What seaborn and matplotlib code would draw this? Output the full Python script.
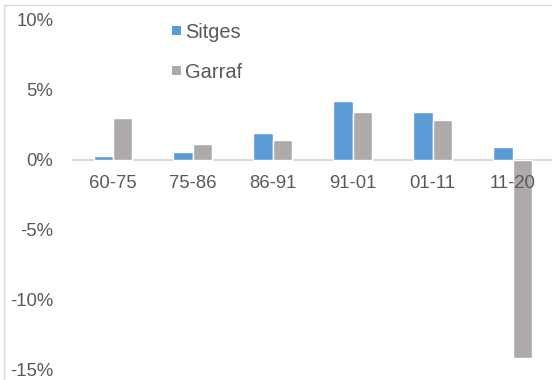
import pandas as pd
import matplotlib
matplotlib.use("Agg")
import matplotlib.pyplot as plt
from matplotlib.lines import Line2D
from matplotlib.patches import Patch
import seaborn as sns

# data (percent)
periods = ["60-75", "75-86", "86-91", "91-01", "01-11", "11-20"]
sitges = [0.25, 0.55, 1.93, 4.2, 3.45, 0.88]
garraf = [3.0, 1.1, 1.43, 3.4, 2.88, -14.2]
series = ["Sitges", "Garraf"]
colors = ["#5B9BD5", "#AEAAAA"]
ytick_vals = [10, 5, 0, -5, -10, -15]
ytick_labels = ["10%", "5%", "0%", "-5%", "-10%", "-15%"]

df = pd.DataFrame({
    "period": periods * 2,
    "value": sitges + garraf,
    "zona": ["Sitges"] * len(periods) + ["Garraf"] * len(periods),
})

sns.set_style("white")
plt.rcParams["font.family"] = ["Liberation Sans", "DejaVu Sans"]
txt = "#595959"
fs = 13.3

fig = plt.figure(figsize=(5.52, 3.80), dpi=100)
ax = fig.add_axes([72.7 / 552, 1 - 369.5 / 380, 480 / 552, 349.5 / 380])

sns.barplot(data=df, x="period", y="value", hue="zona", hue_order=series,
            order=periods, palette=colors, width=0.48,
            saturation=1, errorbar=None, ax=ax, zorder=2, legend=False)

ax.set_xlim(-0.5, 5.5)
ax.set_ylim(-15, 10)
ax.set_yticks(ytick_vals)
ax.set_yticklabels(ytick_labels)
ax.set_xlabel("")
ax.set_ylabel("")

for s in ["top", "right", "left"]:
    ax.spines[s].set_visible(False)
ax.spines["bottom"].set_position(("data", 0))
ax.spines["bottom"].set_color("#D9D9D9")
ax.spines["bottom"].set_linewidth(1.5)
ax.spines["bottom"].set_zorder(1)

ax.tick_params(axis="x", length=0, pad=11, labelsize=fs, labelcolor=txt)
ax.tick_params(axis="y", length=0, pad=14, labelsize=fs, labelcolor=txt)
# period labels sit on top of the long negative bar
ax.xaxis.set_zorder(5)

handles = [Patch(facecolor=c, edgecolor="none", linewidth=0) for c in colors]
leg = ax.legend(handles, series, loc="upper left", bbox_to_anchor=(0.19, 1.015),
                frameon=False, fontsize=14.4, handlelength=0.46, handleheight=0.33,
                handletextpad=0.22, labelspacing=1.05, borderaxespad=0)
for t in leg.get_texts():
    t.set_color(txt)

# chart frame of the reference (only the left and top edges are visible)
fig.add_artist(Line2D([4 / 552, 4 / 552], [0, 1 - 5 / 380], color="#D9D9D9", lw=1))
fig.add_artist(Line2D([4 / 552, 1], [1 - 5 / 380, 1 - 5 / 380], color="#D9D9D9", lw=1))

fig.savefig("out.png", dpi=100)
